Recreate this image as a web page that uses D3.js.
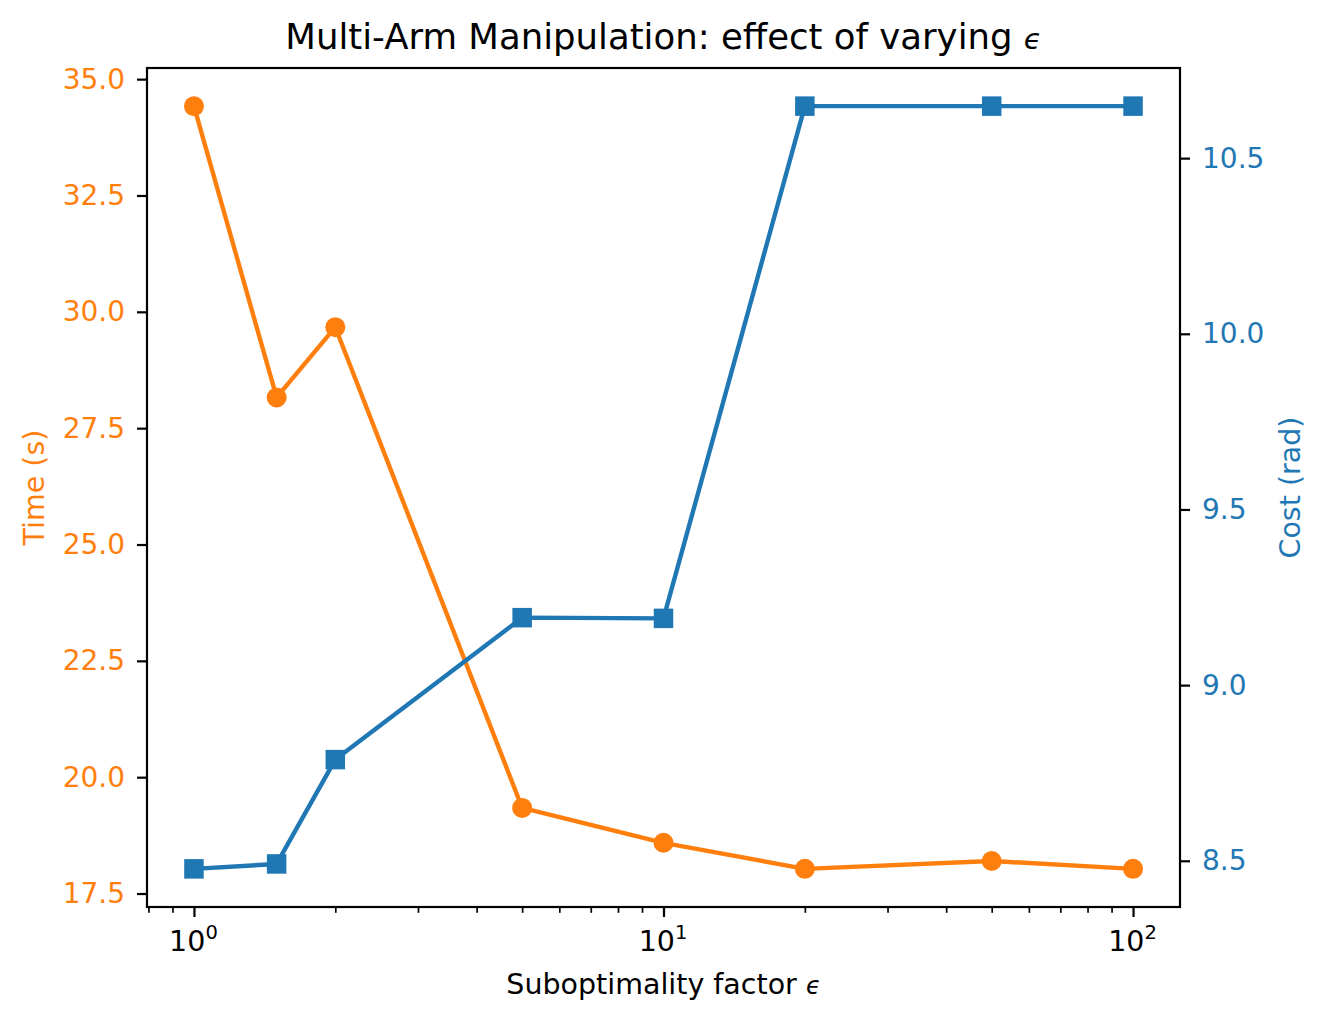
<!DOCTYPE html>
<html>
<head>
<meta charset="utf-8">
<script src="https://cdn.jsdelivr.net/npm/d3@7"></script>
<style>
  body { margin: 0; background: #fff; }
  text { font-family: "DejaVu Sans", sans-serif; }
</style>
</head>
<body>
<svg id="canvas"></svg>
<script>
const epsValues = [1, 1.5, 2, 5, 10, 20, 50, 100];
const timeValues = [34.42, 28.16, 29.67, 19.34, 18.59, 18.03, 18.2, 18.03];
const costValues = [8.477, 8.491, 8.788, 9.192, 9.19, 10.648, 10.648, 10.648];
const timeTicks = [17.5, 20.0, 22.5, 25.0, 27.5, 30.0, 32.5, 35.0];
const costTicks = [8.5, 9.0, 9.5, 10.0, 10.5];
const xTicks = [1, 10, 100];

const orange = "#ff7f0e";
const blue = "#1f77b4";

function getChartConfig() {
  let canvasWidth = 1328,
    canvasHeight = 1025;
  let margin = { top: 68, right: 148, bottom: 118, left: 147 };
  let width = canvasWidth - margin.left - margin.right;
  let height = canvasHeight - margin.top - margin.bottom;

  let svg = d3.select("#canvas");
  svg.attr("width", canvasWidth).attr("height", canvasHeight);

  return { canvasWidth, canvasHeight, margin, width, height, svg };
}

// matplotlib style 5% padding around the data
function padded(lo, hi, log) {
  if (log) {
    let a = Math.log10(lo), b = Math.log10(hi), p = (b - a) * 0.05;
    return [Math.pow(10, a - p), Math.pow(10, b + p)];
  }
  let p = (hi - lo) * 0.05;
  return [lo - p, hi + p];
}

function getChartScales(config) {
  let { width, height } = config;

  let xScale = d3
    .scaleLog()
    .range([0, width])
    .domain(padded(d3.min(epsValues), d3.max(epsValues), true));

  let yTime = d3
    .scaleLinear()
    .range([height, 0])
    .domain(padded(d3.min(timeValues), d3.max(timeValues)));

  let yCost = d3
    .scaleLinear()
    .range([height, 0])
    .domain(padded(d3.min(costValues), d3.max(costValues)));

  return { xScale, yTime, yCost };
}

function styleAxis(g, color) {
  g.select(".domain").remove();
  g.selectAll(".tick line").attr("stroke", "#000").attr("stroke-width", 2.2);
  g.selectAll(".tick text")
    .attr("fill", color)
    .style("font-size", "28px")
    .style("font-family", "DejaVu Sans");
}

function drawAxes(scales, config) {
  let { xScale, yTime, yCost } = scales;
  let { svg, margin, width, height } = config;

  let plot = svg.append("g").attr("transform", `translate(${margin.left},${margin.top})`);

  // minor ticks on the log axis
  let [d0, d1] = xScale.domain();
  let minor = [];
  for (let e = -1; e <= 2; e++) {
    for (let m = 2; m <= 9; m++) {
      let v = m * Math.pow(10, e);
      if (v >= d0 && v <= d1) minor.push(v);
    }
  }
  plot
    .append("g")
    .attr("transform", `translate(0,${height})`)
    .call(d3.axisBottom(xScale).tickValues(minor).tickSize(5.8).tickFormat(""))
    .call((g) => {
      g.select(".domain").remove();
      g.selectAll(".tick line").attr("stroke", "#000").attr("stroke-width", 1.7);
    });

  let xAxis = plot
    .append("g")
    .attr("transform", `translate(0,${height})`)
    .call(d3.axisBottom(xScale).tickValues(xTicks).tickSize(10).tickFormat(""));
  styleAxis(xAxis, "#000");
  xAxis.selectAll(".tick").each(function (d) {
    let t = d3
      .select(this)
      .append("text")
      .attr("y", 44)
      .attr("x", -1)
      .attr("text-anchor", "middle")
      .attr("fill", "#000")
      .style("font-size", "28.5px");
    t.append("tspan").text("10");
    t.append("tspan")
      .attr("dy", -12)
      .style("font-size", "19.5px")
      .text(Math.round(Math.log10(d)));
  });

  let yLeft = plot
    .append("g")
    .call(
      d3.axisLeft(yTime).tickValues(timeTicks).tickSize(10).tickPadding(12).tickFormat(d3.format(".1f"))
    );
  styleAxis(yLeft, orange);

  let yRight = plot
    .append("g")
    .attr("transform", `translate(${width},0)`)
    .call(
      d3.axisRight(yCost).tickValues(costTicks).tickSize(10).tickPadding(12).tickFormat(d3.format(".1f"))
    );
  styleAxis(yRight, blue);

  // frame
  plot
    .append("rect")
    .attr("width", width)
    .attr("height", height)
    .attr("fill", "none")
    .attr("stroke", "#000")
    .attr("stroke-width", 2.2);

  svg
    .append("text")
    .attr("x", margin.left + width / 2)
    .attr("y", 49)
    .attr("text-anchor", "middle")
    .style("font-size", "35.5px")
    .text("Multi-Arm Manipulation: effect of varying ")
    .append("tspan")
    .style("font-style", "italic")
    .style("font-size", "29px")
    .text("ϵ");

  svg
    .append("text")
    .attr("x", margin.left + width / 2)
    .attr("y", 994)
    .attr("text-anchor", "middle")
    .style("font-size", "28.5px")
    .text("Suboptimality factor ")
    .append("tspan")
    .style("font-style", "italic")
    .style("font-size", "24px")
    .text("ϵ");

  svg
    .append("text")
    .attr("transform", `translate(44,${margin.top + height / 2}) rotate(-90)`)
    .attr("text-anchor", "middle")
    .attr("fill", orange)
    .style("font-size", "28.5px")
    .text("Time (s)");

  svg
    .append("text")
    .attr("transform", `translate(1300,${margin.top + height / 2}) rotate(-90)`)
    .attr("text-anchor", "middle")
    .attr("fill", blue)
    .style("font-size", "28.5px")
    .text("Cost (rad)");

  return plot;
}

function drawChart(plot, scales) {
  let { xScale, yTime, yCost } = scales;

  let timeData = epsValues.map((e, i) => ({ eps: e, value: timeValues[i] }));
  let costData = epsValues.map((e, i) => ({ eps: e, value: costValues[i] }));

  const timeLine = d3.line().x((d) => xScale(d.eps)).y((d) => yTime(d.value));
  const costLine = d3.line().x((d) => xScale(d.eps)).y((d) => yCost(d.value));

  plot
    .append("path")
    .datum(timeData)
    .attr("fill", "none")
    .attr("stroke", orange)
    .attr("stroke-width", 4.4)
    .attr("stroke-linejoin", "round")
    .attr("d", timeLine);

  plot
    .selectAll(".time-pt")
    .data(timeData)
    .enter()
    .append("circle")
    .attr("class", "time-pt")
    .attr("cx", (d) => xScale(d.eps))
    .attr("cy", (d) => yTime(d.value))
    .attr("r", 10)
    .attr("fill", orange);

  plot
    .append("path")
    .datum(costData)
    .attr("fill", "none")
    .attr("stroke", blue)
    .attr("stroke-width", 4.4)
    .attr("stroke-linejoin", "round")
    .attr("d", costLine);

  let s = 19.5;
  plot
    .selectAll(".cost-pt")
    .data(costData)
    .enter()
    .append("rect")
    .attr("class", "cost-pt")
    .attr("x", (d) => xScale(d.eps) - s / 2)
    .attr("y", (d) => yCost(d.value) - s / 2)
    .attr("width", s)
    .attr("height", s)
    .attr("fill", blue);
}

let config = getChartConfig();
let scales = getChartScales(config);
let plot = drawAxes(scales, config);
drawChart(plot, scales);
</script>
</body>
</html>
